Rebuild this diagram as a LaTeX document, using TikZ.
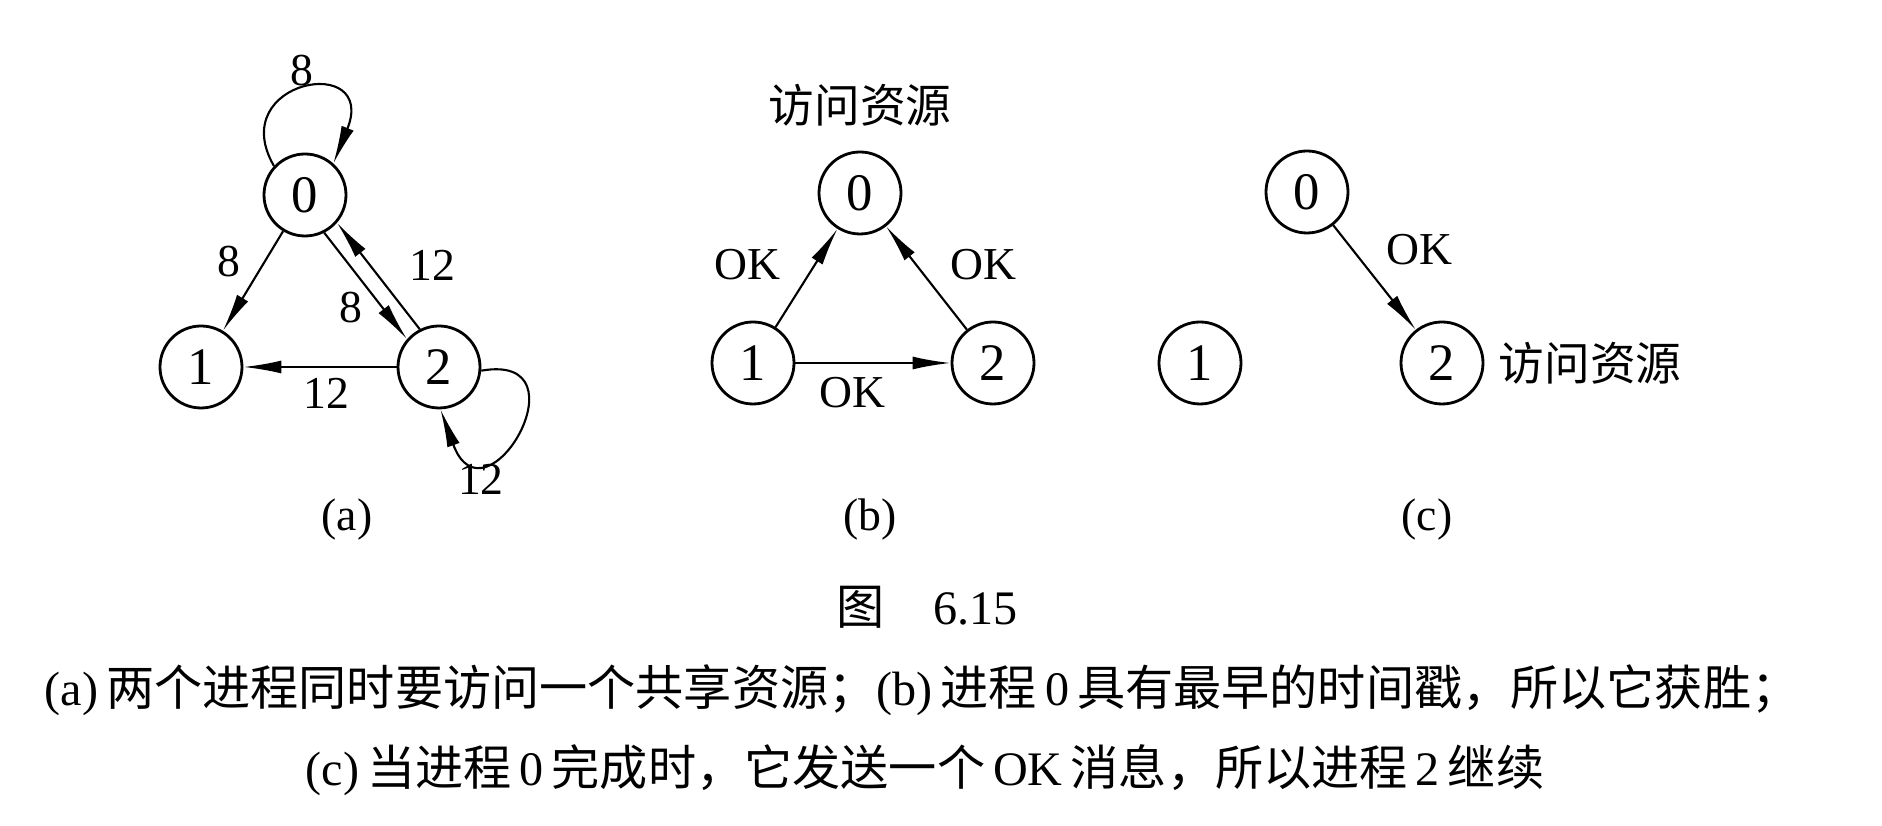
\documentclass[tikz,border=0pt]{standalone}
\usepackage{fontspec}
\setmainfont{Liberation Serif}
\newfontfamily\cjk{Noto Sans CJK SC}
\usetikzlibrary{arrows.meta,positioning}

\begin{document}
\begin{tikzpicture}[
    proc/.style={circle, draw, line width=0.8pt, minimum size=8.2mm, inner sep=0pt, font=\fontsize{15}{15}\selectfont},
    msg/.style={line width=0.6pt, -{Latex[length=3.8mm, width=1.3mm]}},
    lbl/.style={inner sep=1pt, font=\fontsize{13}{13}\selectfont},
    cjklbl/.style={inner sep=1pt, font=\cjk\fontsize{13}{13}\selectfont},
    captext/.style={inner sep=0pt, font=\cjk\fontsize{13.7}{16}\selectfont}]
  \useasboundingbox (0,0) rectangle (18.82,8.26);

  % (a)
  \node[proc] (a0) at (3.05,6.31) {0};
  \node[proc] (a1) at (2.01,4.59) {1};
  \node[proc] (a2) at (4.39,4.59) {2};
  \draw[msg] (a0.137) .. controls +(120:1.0) and +(68:1.2) .. (a0.48) node[lbl, pos=0.5, above] {8};
  \draw[msg] (a0) -- (a1) node[lbl, pos=0.3, left=0.2cm] {8};
  \draw[msg] (a0.-63) -- (a2.139) node[lbl, pos=0.7, left=0.15cm] {8};
  \draw[msg] (a2.117) -- (a0.-41) node[lbl, pos=0.6, right=0.35cm] {12};
  \draw[msg] (a2) -- (a1) node[lbl, pos=0.46, below=0.07cm] {12};
  \draw[msg] (a2.-5) .. controls +(10:1.1) and +(-70:1.3) .. (a2.-88) node[lbl, pos=0.75, below=0.08cm] {12};
  \node[lbl] (capa) at (3.47,3.06) {(a)};

  % (b)
  \node[proc] (b0) at (8.60,6.33) {0};
  \node[proc] (b1) at (7.53,4.63) {1};
  \node[proc] (b2) at (9.93,4.63) {2};
  \node[cjklbl, above=0.2cm of b0] (useb) {访问资源};
  \draw[msg] (b1) -- (b0) node[lbl, pos=0.64, left=0.3cm] {OK};
  \draw[msg] (b2) -- (b0) node[lbl, pos=0.63, right=0.3cm] {OK};
  \draw[msg] (b1) -- (b2) node[lbl, pos=0.37, below=0.1cm] {OK};
  \node[lbl] (capb) at (8.70,3.06) {(b)};

  % (c)
  \node[proc] (c0) at (13.07,6.34) {0};
  \node[proc] (c1) at (12.00,4.63) {1};
  \node[proc] (c2) at (14.42,4.63) {2};
  \node[cjklbl, right=0.1cm of c2] (usec) {访问资源};
  \draw[msg] (c0) -- (c2) node[lbl, pos=0.23, right=0.3cm] {OK};
  \node[lbl] (capc) at (14.27,3.06) {(c)};

  % caption
  \node[captext] (fig) at (9.27,2.19) {图\quad{\rmfamily 6.15}};
  \node[captext] (line1) at (9.22,1.36) {{\rmfamily(a)}\,两个进程同时要访问一个共享资源；{\rmfamily(b)}\,进程\,{\rmfamily 0}\,具有最早的时间戳，所以它获胜；};
  \node[captext] (line2) at (9.25,0.56) {{\rmfamily(c)}\,当进程\,{\rmfamily 0}\,完成时，它发送一个\,{\rmfamily OK}\,消息，所以进程\,{\rmfamily 2}\,继续};
\end{tikzpicture}
\end{document}
